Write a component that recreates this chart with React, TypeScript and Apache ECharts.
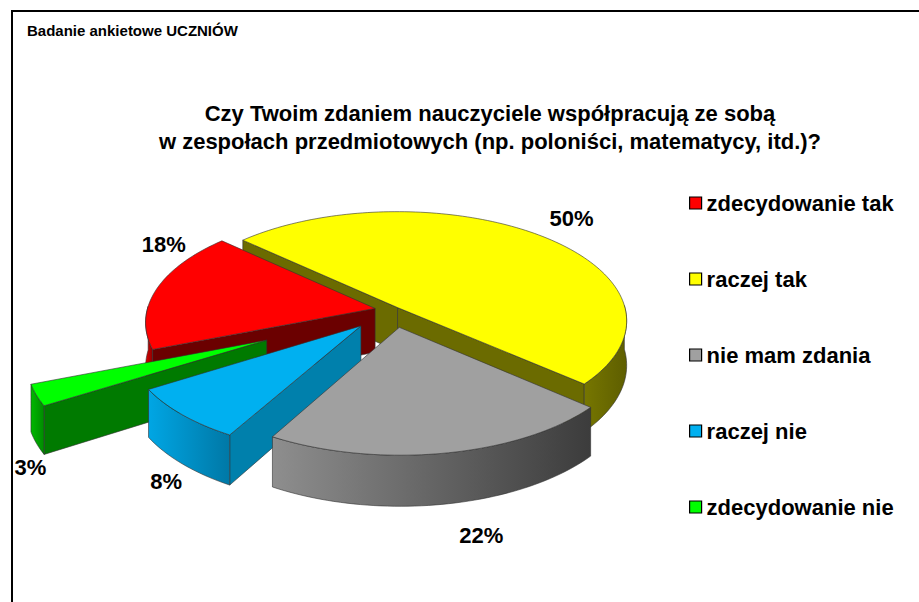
import React, { useEffect, useRef } from "react";
import * as echarts from "echarts";

// ---- data ----
const CATEGORIES = ["zdecydowanie tak", "raczej tak", "nie mam zdania", "raczej nie", "zdecydowanie nie"];
const VALUES = [18, 50, 22, 8, 3];
const LABELS = ["18%", "50%", "22%", "8%", "3%"];
const SUPTITLE = "Badanie ankietowe UCZNIÓW";
const TITLE_LINES = [
  "Czy Twoim zdaniem nauczyciele współpracują ze sobą",
  "w zespołach przedmiotowych (np. poloniści, matematycy, itd.)?",
];

// ---- styles ----
const TOP_COLORS = ["#FF0000", "#FFFF00", "#A0A0A0", "#00B0F0", "#00FF00"];
const SIDE_COLORS = ["#6B0000", "#6B6B00", "#5A5A5A", "#0080AC", "#007A00"];
const WALL_COLORS = [
  ["#E00000", "#8A0000"],
  ["#767600", "#5E5E00"],
  ["#8E8E8E", "#3C3C3C"],
  ["#00A6E4", "#0078A6"],
  ["#00B800", "#008A00"],
];
const EXPLODE = [0.08, 0.03, 0.16, 0.2, 0.6];
const LABEL_OFFSETS = [
  [7, -44],
  [35, -16],
  [36, 31],
  [-16, 18],
  [-6, 24],
];
const FONT = '"Liberation Sans", Arial, sans-serif';
const CX = 393;
const CY = 310;
const RX = 228;
const RY = 108;
const DEPTH = 44;
const PERSP = 0.12;
const START = (158.6 * Math.PI) / 180;

const TOTAL = VALUES.reduce((a, b) => a + b, 0);
const CUM: number[] = [];
VALUES.reduce((acc, v, i) => {
  CUM[i] = acc;
  return acc + v;
}, 0);

function proj(px: number, pz: number, h: number): number[] {
  const s = 1 / (1 - PERSP * pz);
  return [CX + s * px * RX, CY + s * (pz * RY + h * DEPTH)];
}

function arcPts(ox: number, oz: number, b0: number, b1: number, h: number): number[][] {
  const n = Math.max(2, Math.ceil(Math.abs(b1 - b0) / (Math.PI / 120)));
  const pts: number[][] = [];
  for (let i = 0; i <= n; i++) {
    const t = b0 + ((b1 - b0) * i) / n;
    pts.push(proj(ox + Math.cos(t), oz + Math.sin(t), h));
  }
  return pts;
}

const EDGE = { stroke: "#303030", lineWidth: 0.6 };

function renderItem(params: any, api: any) {
  const i = params.seriesIndex;
  const cum = api.value(0);
  const val = api.value(1);
  const total = api.value(2);
  const a0 = START + (cum / total) * Math.PI * 2;
  const a1 = START + ((cum + val) / total) * Math.PI * 2;
  const m = (a0 + a1) / 2;
  const ox = EXPLODE[i] * Math.cos(m);
  const oz = EXPLODE[i] * Math.sin(m);
  const children: any[] = [];

  const radialFace = (a: number) => {
    const pts = [
      proj(ox, oz, 0),
      proj(ox + Math.cos(a), oz + Math.sin(a), 0),
      proj(ox + Math.cos(a), oz + Math.sin(a), 1),
      proj(ox, oz, 1),
    ];
    children.push({
      type: "polygon",
      z2: Math.round(500 + (oz + Math.sin(a) / 2) * 200),
      shape: { points: pts },
      style: { fill: SIDE_COLORS[i], ...EDGE },
    });
  };
  if (Math.cos(a0) < 0) radialFace(a0);
  if (Math.cos(a1) > 0) radialFace(a1);

  for (let k = -1; k <= 2; k++) {
    const w0 = 2 * Math.PI * k - 0.02;
    const w1 = 2 * Math.PI * k + Math.PI + 0.02;
    const b0 = Math.max(a0, w0);
    const b1 = Math.min(a1, w1);
    if (b1 > b0) {
      const top = arcPts(ox, oz, b0, b1, 0);
      const bot = arcPts(ox, oz, b0, b1, 1).reverse();
      const bm = (b0 + b1) / 2;
      children.push({
        type: "polygon",
        z2: Math.round(500 + (oz + Math.sin(bm)) * 200),
        shape: { points: top.concat(bot) },
        style: {
          fill: new echarts.graphic.LinearGradient(0, 0, 1, 0, [
            { offset: 0, color: WALL_COLORS[i][0] },
            { offset: 1, color: WALL_COLORS[i][1] },
          ]),
          ...EDGE,
        },
      });
    }
  }

  const topPts = [proj(ox, oz, 0)].concat(arcPts(ox, oz, a0, a1, 0));
  children.push({
    type: "polygon",
    z2: 1200,
    shape: { points: topPts },
    style: { fill: TOP_COLORS[i], ...EDGE },
  });

  const h = Math.sin(m) > 0 ? 1 : 0;
  const anchor = proj(ox + Math.cos(m), oz + Math.sin(m), h);
  children.push({
    type: "text",
    z2: 1300,
    style: {
      text: LABELS[i],
      x: anchor[0] + LABEL_OFFSETS[i][0],
      y: anchor[1] + LABEL_OFFSETS[i][1],
      textAlign: "center",
      textVerticalAlign: "middle",
      font: `bold 22px ${FONT}`,
      fill: "#000",
    },
  });

  return { type: "group", children };
}

export default function App() {
  const ref = useRef<HTMLDivElement>(null);
  useEffect(() => {
    document.body.style.margin = "0";
    if (!ref.current) return;
    const chart = echarts.init(ref.current, undefined, { renderer: "svg" });
    chart.setOption({
      animation: false,
      backgroundColor: "#ffffff",
      legend: {
        orient: "vertical",
        left: 684,
        top: 187,
        itemWidth: 12,
        itemHeight: 12,
        itemGap: 54,
        icon: "rect",
        selectedMode: false,
        itemStyle: { borderColor: "#000", borderWidth: 1.2 },
        textStyle: { fontFamily: FONT, fontWeight: "bold", fontSize: 22, color: "#000" },
        data: CATEGORIES,
      },
      graphic: [
        {
          type: "rect",
          shape: { x: 12, y: 11, width: 1000, height: 1000 },
          style: { fill: "none", stroke: "#000", lineWidth: 2 },
          silent: true,
        },
        {
          type: "text",
          style: {
            text: SUPTITLE,
            x: 27,
            y: 30,
            textAlign: "left",
            textVerticalAlign: "middle",
            font: `bold 15px ${FONT}`,
            fill: "#000",
          },
        },
        ...TITLE_LINES.map((t, j) => ({
          type: "text",
          style: {
            text: t,
            x: 490,
            y: 113 + j * 28,
            textAlign: "center",
            textVerticalAlign: "middle",
            font: `bold 22px ${FONT}`,
            fill: "#000",
          },
        })),
      ],
      series: CATEGORIES.map((name, i) => ({
        type: "custom",
        name,
        coordinateSystem: "none",
        silent: true,
        itemStyle: { color: TOP_COLORS[i] },
        renderItem,
        data: [[CUM[i], VALUES[i], TOTAL]],
      })),
    });
    return () => chart.dispose();
  }, []);
  return (
    <div
      ref={ref}
      style={{ position: "absolute", left: 0, top: 0, width: 919, height: 602, background: "#fff" }}
    />
  );
}
